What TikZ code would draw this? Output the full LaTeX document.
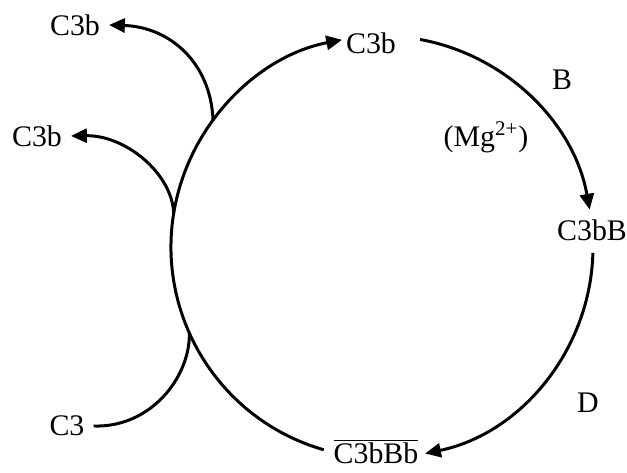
\documentclass[tikz,border=0pt]{standalone}
\usepackage{fontspec}
\setmainfont{Liberation Serif}
\usetikzlibrary{arrows.meta, calc}

\begin{document}
\begin{tikzpicture}[
    x=0.2mm, y=0.2mm,
    >={Triangle[length=9pt, width=8pt]},
    flow/.style={line width=1.7pt, ->},
    branch/.style={line width=1.7pt},
    lbl/.style={font=\fontsize{17}{20}\selectfont, inner sep=5pt}
  ]
  \useasboundingbox (0,0) rectangle (627,473);
  \def\crad{211}
  % centre of the cycle
  \coordinate (ctr) at (382,226);

  % Labels
  \node[lbl] (c3bUp)  at (75,448)  {C3b};
  \node[lbl] (c3bLow) at (37,337)  {C3b};
  \node[lbl] (c3bTop) at (371,430) {C3b};
  \node[lbl] (facB)   at (562,393) {B};
  \node[lbl] (mg)     at (486,336) {(Mg\textsuperscript{2+})};
  \node[lbl] (c3bB)   at (592,243) {C3bB};
  \node[lbl] (facD)   at (588,70)  {D};
  \node[lbl] (c3bBb)  at (376,21)  {$\overline{\mbox{C3bBb}}$};
  \node[lbl] (c3)     at (67,47)   {C3};

  % Points on the circle
  \coordinate (j1) at ($(ctr)+(143.2:\crad)$);
  \coordinate (j2) at ($(ctr)+(170.8:\crad)$);
  \coordinate (j3) at ($(ctr)+(204.1:\crad)$);

  % The cycle
  \draw[flow] ($(ctr)+(254:\crad)$) arc[start angle=254, end angle=100.9, radius=\crad];
  \draw[flow] ($(ctr)+(79.6:\crad)$) arc[start angle=79.6, end angle=10.2, radius=\crad];
  \draw[flow] ($(ctr)+(-1.6:\crad)$) arc[start angle=-1.6, end angle=-78.2, radius=\crad];

  % C3 in, C3b out
  \draw[branch] (c3.east) .. controls (150,45) and (190,95) .. (j3);
  \draw[flow] (j1) .. controls (211,410) and (170,446) .. (c3bUp.east);
  \draw[flow] (j2) .. controls (172,300) and (125,338) .. (c3bLow.east);
\end{tikzpicture}
\end{document}
